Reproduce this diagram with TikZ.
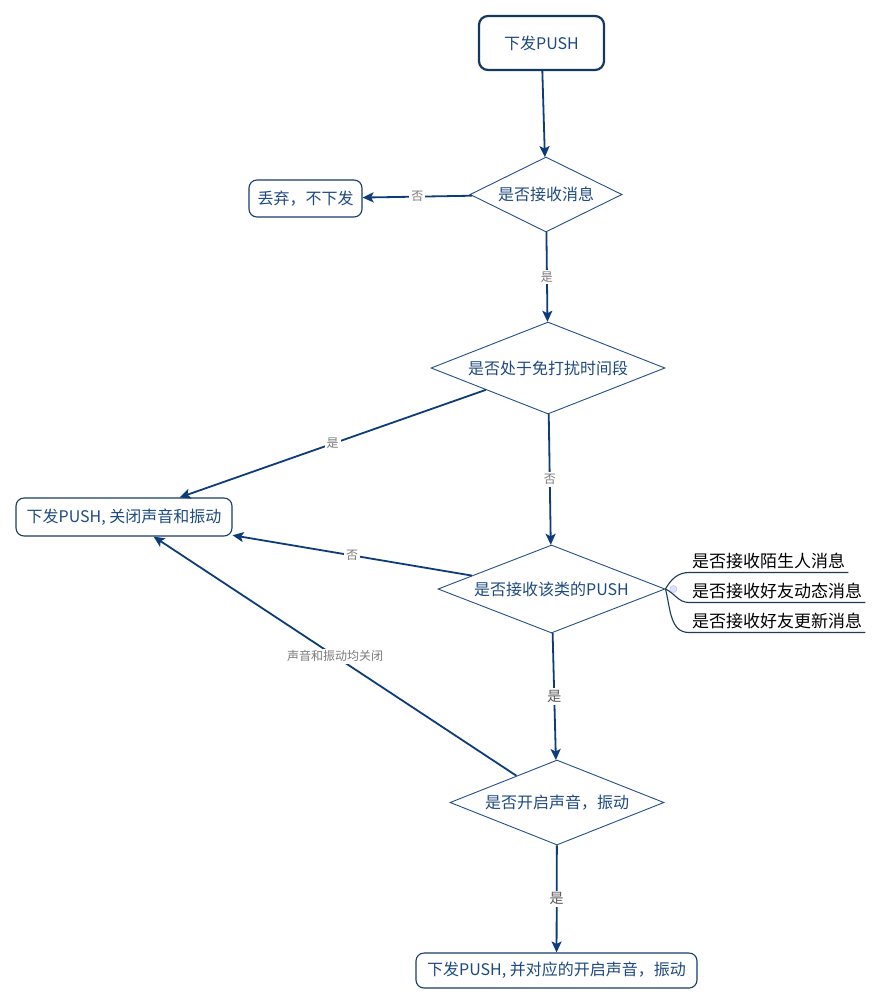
\documentclass[tikz,border=0pt]{standalone}
\usepackage{fontspec}
\setmainfont{Noto Sans CJK SC}
\usetikzlibrary{shapes.geometric,arrows.meta}
\definecolor{edgec}{HTML}{0E3C7A}
\definecolor{txtc}{HTML}{1E4A80}
\definecolor{dborder}{HTML}{24508A}
\definecolor{boxc}{HTML}{1A3D66}
\definecolor{topc}{HTML}{14385E}
\definecolor{lblc}{HTML}{7A7A7A}
\definecolor{brc}{HTML}{1F3B5A}
\begin{document}
\begin{tikzpicture}[x=1pt,y=-1pt,
  mainfont/.style={font=\fontsize{16}{18}\selectfont},
  topbox/.style={draw=topc, line width=2.2pt, rounded corners=9pt, text=txtc, mainfont, inner sep=0pt, minimum width=125pt, minimum height=54pt},
  box/.style={draw=boxc, line width=1.1pt, rounded corners=8pt, text=txtc, mainfont, inner sep=0pt},
  dia/.style={diamond, draw=dborder, line width=0.9pt, shape aspect=2.5, inner sep=0pt, text=txtc, mainfont},
  conn/.style={draw=edgec, line width=1.8pt, -{Stealth[length=11pt,width=10pt,inset=2.5pt]}},
  lbl/.style={fill=white, text=lblc, font=\fontsize{12}{14}\selectfont, inner sep=2pt},
  biglbl/.style={fill=white, text=black!65, font=\fontsize{14}{16}\selectfont, inner sep=2pt},
  side/.style={text=black, font=\fontsize{17}{19}\selectfont, inner xsep=3pt, inner ysep=3pt, anchor=south west},
  branch/.style={draw=brc, line width=1.1pt}
]
\useasboundingbox (0,0) rectangle (881,1005);
\fill[white] (0,0) rectangle (881,1005);

\node[topbox] (start) at (541.5,43) {下发PUSH};
\node[dia, minimum width=152pt, minimum height=75pt] (d1) at (546,194.5) {是否接收消息};
\node[box, minimum width=113pt, minimum height=37pt] (drop) at (305.5,198.5) {丢弃，不下发};
\node[dia, minimum width=234pt, minimum height=92pt] (d2) at (548,368) {是否处于免打扰时间段};
\node[box, minimum width=216pt, minimum height=38pt] (mute) at (124,517) {下发PUSH, 关闭声音和振动};
\node[dia, minimum width=227pt, minimum height=88pt] (d3) at (551.5,589) {是否接收该类的PUSH};
\node[dia, minimum width=214pt, minimum height=85pt] (d4) at (557,802.5) {是否开启声音，振动};
\node[box, minimum width=281pt, minimum height=35pt] (final) at (556.5,970.5) {下发PUSH, 并对应的开启声音，振动};

\draw[conn] (start) -- (d1);
\draw[conn] (d1) -- node[lbl]{否} (drop);
\draw[conn] (d1) -- node[lbl]{是} (d2);
\draw[conn] (d2) -- node[lbl]{是} (mute);
\draw[conn] (d2) -- node[lbl]{否} (d3);
\draw[conn] (d3) -- node[lbl]{否} (mute);
\draw[conn] (d3) -- node[biglbl]{是} (d4);
\draw[conn] (d4) -- node[lbl]{声音和振动均关闭} (mute);
\draw[conn] (d4) -- node[biglbl]{是} (final);

% branch list
\node[side] (s1) at (689,572.5) {是否接收陌生人消息};
\node[side] (s2) at (689,602.5) {是否接收好友动态消息};
\node[side] (s3) at (689,632.5) {是否接收好友更新消息};
\draw[branch] (d3.east) to[out=60,in=180] (s1.south west) -- (s1.south east);
\draw[branch] (d3.east) to[out=-25,in=180] (s2.south west) -- (s2.south east);
\draw[branch] (d3.east) to[out=-75,in=180] (s3.south west) -- (s3.south east);
\node[circle, fill=blue!15, fill opacity=0.8, draw=blue!25, line width=0.5pt, minimum size=7pt, inner sep=0pt] (dot) at (673.5,589) {};
\end{tikzpicture}
\end{document}
